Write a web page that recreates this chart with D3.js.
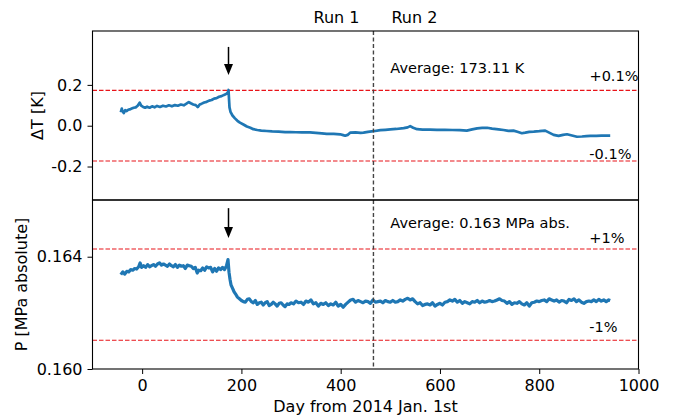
<!DOCTYPE html>
<html><head><meta charset="utf-8">
<script src="https://cdn.jsdelivr.net/npm/d3@7"></script>
<style>body{margin:0;background:#fff}svg{display:block}text{font-family:"DejaVu Sans",sans-serif}</style>
</head><body>
<svg id="c" width="674" height="416"></svg>
<script>
// ---- data ----
const xTicks = [0, 200, 400, 600, 800, 1000];
const tTicks = [-0.2, 0.0, 0.2];
const pTicks = [0.160, 0.164];
const avgT = 173.11;          // K
const avgP = 0.16265;         // MPa abs (label shows 0.163)
const runSplitDay = 466;
const eventDay = 174;
const runLabels = ["Run 1", "Run 2"];

const tDays = [-43,-41,-40,-37,-34,-31,-28,-25,-21,-17,-13,-9,-5,-2,2,6,10,15,20,25,30,36,42,48,54,60,66,72,78,84,90,94,98,103,108,112,116,120,125,130,135,140,145,150,155,160,165,170,173,174,176,178,182,187,192,197,204,211,218,224,232,240,251,262,275,288,298,310,322,338,350,362,372,386,399,405,409,414,419,430,440,446,455,466,480,490,500,512,527,535,540,546,554,565,580,594,610,625,640,654,665,675,685,695,705,718,728,738,748,756,765,772,780,789,800,812,820,829,839,848,856,866,876,886,895,903,915,925,935,943];
const tVals = [0.066,0.084,0.074,0.062,0.076,0.072,0.078,0.080,0.084,0.088,0.090,0.098,0.113,0.098,0.092,0.088,0.093,0.088,0.095,0.090,0.097,0.092,0.098,0.094,0.100,0.095,0.101,0.098,0.104,0.100,0.109,0.116,0.110,0.104,0.101,0.091,0.104,0.108,0.114,0.117,0.123,0.126,0.133,0.135,0.142,0.145,0.151,0.156,0.165,0.175,0.090,0.068,0.050,0.036,0.024,0.015,0.006,-0.004,-0.010,-0.017,-0.021,-0.024,-0.026,-0.028,-0.029,-0.031,-0.031,-0.032,-0.033,-0.033,-0.035,-0.038,-0.040,-0.040,-0.042,-0.046,-0.049,-0.045,-0.034,-0.033,-0.035,-0.034,-0.030,-0.027,-0.022,-0.020,-0.018,-0.016,-0.012,-0.008,-0.002,-0.010,-0.017,-0.019,-0.019,-0.020,-0.020,-0.021,-0.022,-0.024,-0.018,-0.013,-0.011,-0.010,-0.014,-0.018,-0.021,-0.025,-0.024,-0.030,-0.037,-0.034,-0.030,-0.029,-0.027,-0.024,-0.034,-0.045,-0.050,-0.045,-0.042,-0.048,-0.054,-0.053,-0.051,-0.050,-0.050,-0.049,-0.049,-0.049];

const pDays = [-43,-39,-35,-31,-27,-23,-19,-15,-11,-7,-4,-1,3,7,11,15,19,23,27,31,35,39,43,47,51,55,59,63,67,71,75,79,83,87,91,95,99,103,107,111,114,118,122,126,130,134,138,142,146,150,154,158,162,166,170,173,175,177,179,182,185,188,192,196,200,204,208,212,216,220,224,228,232,236,240,244,248,252,256,260,264,268,272,276,280,284,288,292,296,300,305,310,315,320,325,330,335,340,345,350,355,360,365,370,375,380,385,390,395,400,405,410,415,420,425,430,435,440,445,450,455,460,465,470,475,480,485,490,495,500,505,510,515,520,525,530,535,540,545,550,555,560,565,570,575,580,585,590,595,600,605,610,615,620,625,630,635,640,645,650,655,660,665,670,675,680,685,690,695,700,705,710,715,720,725,730,735,740,745,750,755,760,765,770,775,780,785,790,795,800,805,810,815,820,825,830,835,840,845,850,855,860,865,870,875,880,885,890,895,900,905,910,915,920,925,930,935,940,943];
const pVals = [0.16336,0.16346,0.16338,0.16348,0.16346,0.16354,0.16352,0.16358,0.16356,0.16364,0.16378,0.16362,0.16368,0.16362,0.16372,0.16364,0.16368,0.16372,0.16366,0.16374,0.16378,0.16370,0.16374,0.16370,0.16366,0.16374,0.16368,0.16364,0.16372,0.16362,0.16370,0.16366,0.16368,0.16358,0.16370,0.16368,0.16366,0.16358,0.16362,0.16342,0.16352,0.16350,0.16360,0.16352,0.16364,0.16360,0.16362,0.16346,0.16358,0.16348,0.16360,0.16354,0.16362,0.16354,0.16368,0.16390,0.16345,0.16320,0.16300,0.16288,0.16276,0.16268,0.16256,0.16250,0.16244,0.16240,0.16238,
0.16248,0.16250,0.16240,0.16236,0.16244,0.16230,0.16236,0.16238,0.16228,0.16236,0.16240,0.16226,0.16230,0.16238,0.16232,0.16224,0.16234,0.16236,0.16228,0.16222,0.16232,0.16230,0.16236,
0.16232,0.16242,0.16236,0.16238,0.16230,0.16242,0.16238,0.16246,0.16232,0.16236,0.16224,0.16234,0.16230,0.16236,0.16226,0.16232,0.16228,0.16238,0.16224,0.16230,
0.16220,0.16230,0.16238,0.16246,0.16248,0.16238,0.16244,0.16240,0.16236,0.16242,0.16240,0.16234,0.16246,0.16238,0.16240,0.16242,0.16236,0.16244,0.16240,0.16238,
0.16244,0.16238,0.16240,0.16246,0.16242,0.16248,0.16252,0.16246,0.16250,0.16240,0.16232,0.16236,0.16226,0.16230,0.16232,0.16228,0.16236,0.16224,0.16230,0.16234,
0.16228,0.16238,0.16240,0.16246,0.16242,0.16248,0.16238,0.16244,0.16234,0.16240,0.16236,0.16232,0.16240,0.16238,0.16244,0.16236,0.16242,0.16238,0.16240,0.16244,
0.16240,0.16242,0.16246,0.16250,0.16244,0.16242,0.16234,0.16240,0.16230,0.16236,0.16234,0.16240,0.16232,0.16228,0.16236,0.16224,0.16236,0.16238,0.16242,0.16240,
0.16244,0.16246,0.16240,0.16250,0.16246,0.16242,0.16246,0.16238,0.16244,0.16242,0.16236,0.16248,0.16244,0.16250,0.16240,0.16246,0.16238,0.16234,0.16240,0.16242,
0.16240,0.16246,0.16240,0.16248,0.16242,0.16246,0.16240,0.16246,0.16244];

// ---- layout ----
const svg = d3.select("#c");
const L = 92.5, R = 638.5, T1 = 31, B1 = 200, T2 = 200, B2 = 369;
const x = d3.scaleLinear().domain([-100, 1000]).range([L, R]);
const yT = d3.scaleLinear().domain([-0.364, 0.464]).range([B1, T1]);
const yP = d3.scaleLinear().domain([0.160, 0.16602]).range([B2, T2]);
const blue = "#1f77b4";

function panel(y, days, vals, ticks, fmt, band, sw) {
  const g = svg.append("g");
  band.forEach(v => g.append("line").attr("x1", L).attr("x2", R)
    .attr("y1", y(v)).attr("y2", y(v)).attr("stroke", "#e8141a").attr("stroke-width", 1.1)
    .attr("stroke-dasharray", "4.5,2"));
  const pts = days.map((d, i) => [d, vals[i]]);
  g.append("path").datum(pts).attr("fill", "none").attr("stroke", blue)
    .attr("stroke-width", sw).attr("stroke-linejoin", "round")
    .attr("d", d3.line().x(d => x(d[0])).y(d => y(d[1])));
  const ax = g.append("g").attr("transform", `translate(${L},0)`)
    .call(d3.axisLeft(y).tickValues(ticks).tickFormat(fmt).tickSize(5).tickPadding(5));
  ax.select(".domain").remove();
  ax.selectAll("text").attr("font-size", 16).attr("fill", "#000").attr("font-family", "DejaVu Sans");
  ax.selectAll("line").attr("stroke", "#000");
  return g;
}

panel(yT, tDays, tVals, tTicks, d => d.toFixed(1), [avgT * 0.001, -avgT * 0.001], 2.7);
panel(yP, pDays, pVals, pTicks, d => d.toFixed(3), [avgP * 1.01, avgP * 0.99], 3.2);

// x axis
const xa = svg.append("g").attr("transform", `translate(0,${B2})`)
  .call(d3.axisBottom(x).tickValues(xTicks).tickFormat(d => String(d)).tickSize(5).tickPadding(6));
xa.select(".domain").remove();
xa.selectAll("text").attr("font-size", 16).attr("fill", "#000").attr("font-family", "DejaVu Sans");
xa.selectAll("line").attr("stroke", "#000");

// run split line
svg.append("line").attr("x1", x(runSplitDay)).attr("x2", x(runSplitDay))
  .attr("y1", T1).attr("y2", B2).attr("stroke", "#444").attr("stroke-width", 1.4)
  .attr("stroke-dasharray", "4,2.5");
svg.append("text").attr("x", x(runSplitDay) - 14).attr("y", 23).attr("text-anchor", "end")
  .attr("font-size", 16).text(runLabels[0]);
svg.append("text").attr("x", x(runSplitDay) + 18).attr("y", 23).attr("text-anchor", "start")
  .attr("font-size", 16).text(runLabels[1]);

// arrows
function arrow(y, from, to) {
  const xx = x(eventDay), y0 = y(from), y1 = y(to);
  svg.append("line").attr("x1", xx).attr("x2", xx).attr("y1", y0).attr("y2", y1 - 9)
    .attr("stroke", "#000").attr("stroke-width", 1.5);
  svg.append("path").attr("d", `M${xx - 4.5},${y1 - 11}L${xx + 4.5},${y1 - 11}L${xx},${y1}Z`).attr("fill", "#000");
}
arrow(yT, 0.386, 0.248);
arrow(yP, 0.16573, 0.16467);

// annotations
function note(y, day, v, txt, anchor) {
  svg.append("text").attr("x", x(day)).attr("y", y(v)).attr("font-size", 14.5)
    .attr("text-anchor", anchor || "start").text(txt);
}
note(yT, 500, 0.258, "Average: 173.11 K");
note(yT, 1000, 0.219, "+0.1%", "end");
note(yT, 901, -0.163, "-0.1%");
note(yP, 500, 0.16501, "Average: 0.163 MPa abs.");
note(yP, 901, 0.16450, "+1%");
note(yP, 901, 0.16131, "-1%");

// frames
[[T1, B1], [T2, B2]].forEach(([t, b]) => svg.append("rect").attr("x", L).attr("y", t)
  .attr("width", R - L).attr("height", b - t).attr("fill", "none").attr("stroke", "#000").attr("stroke-width", 1.1));

// axis labels
svg.append("text").attr("transform", `translate(37,${(T1 + B1) / 2}) rotate(-90)`)
  .attr("text-anchor", "middle").attr("dy", "0.35em").attr("font-size", 16).text("ΔT [K]");
svg.append("text").attr("transform", `translate(21,${(T2 + B2) / 2}) rotate(-90)`)
  .attr("text-anchor", "middle").attr("dy", "0.35em").attr("font-size", 16).text("P [MPa absolute]");
svg.append("text").attr("x", (L + R) / 2).attr("y", 412).attr("text-anchor", "middle")
  .attr("font-size", 16).text("Day from 2014 Jan. 1st");
</script>
</body></html>
